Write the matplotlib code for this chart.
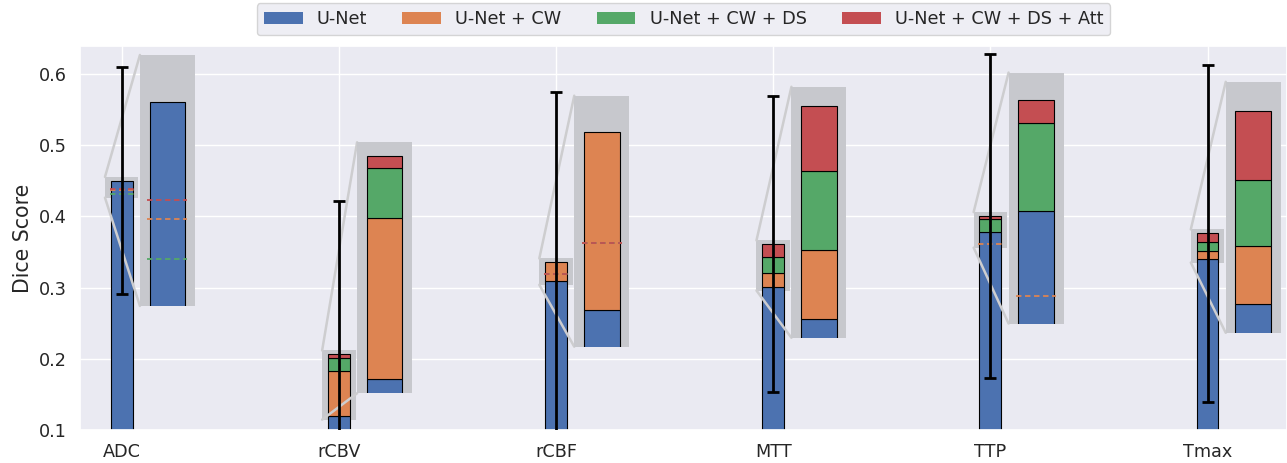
import numpy as np
import matplotlib
matplotlib.use('Agg')
import matplotlib.pyplot as plt
import seaborn as sns
from matplotlib.patches import Rectangle, Patch

sns.set_theme(style='darkgrid')
plt.rcParams['font.family'] = ['DejaVu Sans']

# Dice scores per parameter map (mean) and std of the best model
maps = ['ADC', 'rCBV', 'rCBF', 'MTT', 'TTP', 'Tmax']
models = ['U-Net', 'U-Net + CW', 'U-Net + CW + DS', 'U-Net + CW + DS + Att']
unet = [0.450, 0.120, 0.3093, 0.3013, 0.3785, 0.3406]
unet_cw = [0.4364, 0.1824, 0.3355, 0.3204, 0.3615, 0.3512]
unet_cw_ds = [0.4317, 0.2016, 0.3192, 0.3425, 0.3959, 0.3635]
unet_cw_ds_att = [0.4386, 0.2063, 0.3192, 0.3608, 0.4006, 0.3763]
best_std = [0.1594, 0.2153, 0.2392, 0.2080, 0.2271, 0.2363]

colors = sns.color_palette('deep')[:4]
box_gray = '#c7c8cd'
line_gray = '#cdcdcf'

# layout of the zoom boxes (data coords of the main axes)
inset_bottom = [0.2742, 0.1516, 0.2170, 0.2295, 0.2495, 0.2365]
inset_dx, inset_w, inset_h = 0.084, 0.253, 0.3525
bar_w = 0.1
half_zoom = 0.077
pad = 0.0054

vals = np.array([unet, unet_cw, unet_cw_ds, unet_cw_ds_att])

def draw_stack(a, x, v, z=2):
    top = 0.0
    for i, val in enumerate(v):
        if val > top:
            a.bar(x, val - top, bar_w, bottom=top, color=colors[i],
                  edgecolor='black', linewidth=0.8, zorder=z)
            top = val
        else:
            a.hlines(val, x - 0.056, x + 0.056, colors=[colors[i]],
                     linestyles=(0, (3, 2)), linewidth=1.3, zorder=z + 1.5 + 0.01 * i)
    return top

fig = plt.figure(figsize=(12.87, 4.63), dpi=100)
ax = fig.add_axes([80/1287, 33/463, 1 - 80/1287, (430 - 46)/463])

for k, name in enumerate(maps):
    x = k
    v = vals[:, k]
    top = draw_stack(ax, x, v)
    ax.errorbar(x, top, yerr=best_std[k], color='black', elinewidth=2,
                capsize=4.5, capthick=2, zorder=5)

    lo, hi = v.min() - pad, v.max() + pad
    ax.add_patch(Rectangle((x - half_zoom, lo), 2 * half_zoom, hi - lo,
                           facecolor=box_gray, edgecolor='none', zorder=1))
    x0 = x + inset_dx
    y0 = inset_bottom[k]
    ax.plot([x - half_zoom, x0], [hi, y0 + inset_h], color=line_gray, lw=1.8, zorder=3)
    ax.plot([x - half_zoom, x0], [lo, y0], color=line_gray, lw=1.8, zorder=3)

    axins = ax.inset_axes([x0, y0, inset_w, inset_h], transform=ax.transData)
    axins.set_facecolor(box_gray)
    axins.grid(False)
    for s in axins.spines.values():
        s.set_visible(False)
    axins.set_xticks([])
    axins.set_yticks([])
    draw_stack(axins, x, v)
    axins.set_xlim(x - half_zoom, x + half_zoom)
    axins.set_ylim(lo, hi)

ax.set_xlim(-0.192, 5.366)
ax.set_ylim(0.1, 0.6393)
ax.set_xticks(range(len(maps)))
ax.set_xticklabels(maps)
ax.set_yticks([0.1, 0.2, 0.3, 0.4, 0.5, 0.6])
ax.tick_params(labelsize=12.7)
ax.set_ylabel('Dice Score', fontsize=14.8)

handles = [Patch(facecolor=colors[i], edgecolor='none') for i in range(4)]
fig.legend(handles, models, loc='upper center', bbox_to_anchor=(683.5/1287, 1 - 3/463),
           ncol=4, fontsize=12.7, handlelength=2.2, borderaxespad=0, frameon=True)

fig.savefig('out.png', dpi=100)
